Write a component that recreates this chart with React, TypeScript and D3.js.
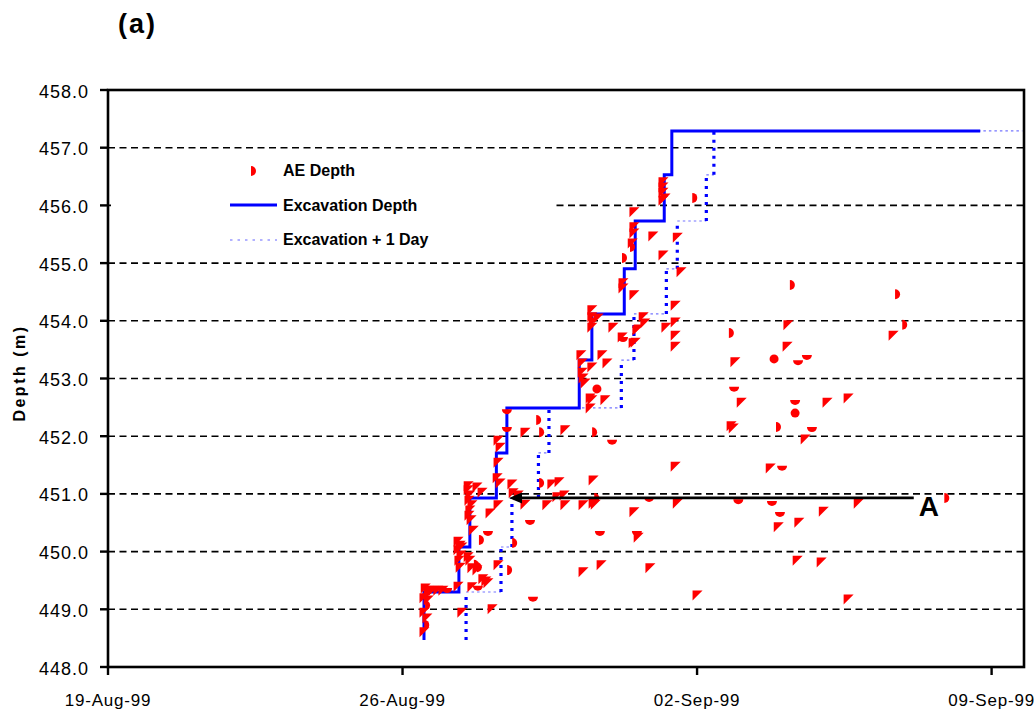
import React from "react";
import * as d3 from "d3";

// Time origin of the x axis and axis ticks
const START = new Date(1999, 7, 19);
const DAY_MS = 864e5;
const xTickDays = [0, 7, 14, 21];
const xMaxDay = 21.77;
const yTicks = [448, 449, 450, 451, 452, 453, 454, 455, 456, 457, 458];
const gridDepths = [449, 450, 451, 452, 453, 454, 455, 456, 457];

// AE event locations: days after 19-Aug-99, depth (m), marker glyph
const aeDay = [
  7.54, 7.61, 7.51, 7.56, 7.51, 7.58, 7.54, 7.51, 7.61, 7.65,
  7.73, 7.84, 7.96, 8.06, 8.32, 8.65, 8.79, 8.98, 9.03, 8.41,
  9.13, 10.10, 8.32, 8.37, 8.32, 8.39, 8.34, 8.41, 8.37, 8.56,
  8.60, 8.72, 8.79, 8.65, 8.77, 8.91, 9.27, 9.51, 9.63, 8.84,
  9.03, 8.68, 8.56, 8.60, 8.58, 8.65, 8.60, 8.58, 8.63, 8.56,
  8.77, 8.89, 9.08, 9.27, 9.32, 9.27, 9.32, 9.27, 9.25, 9.60,
  9.63, 9.75, 9.91, 10.03, 10.27, 10.55, 10.72, 10.43, 10.86, 10.84,
  10.67, 11.29, 11.53, 11.53, 11.58, 11.58, 12.86, 13.53, 12.50, 11.69,
  12.57, 12.60, 11.29, 11.72, 12.88, 13.48, 14.00, 9.48, 10.20, 9.48,
  9.91, 10.27, 10.86, 11.53, 11.98, 11.62, 11.50, 11.81, 11.46, 11.46,
  11.24, 11.27, 11.27, 11.29, 11.34, 11.74, 11.86, 11.50, 12.22, 12.48,
  12.57, 11.50, 11.50, 11.53, 11.65, 11.50, 12.00, 12.24, 12.60, 12.72,
  12.76, 12.53, 13.26, 13.48, 13.48, 13.48, 13.48, 12.50, 12.50, 12.50,
  12.46, 12.43, 12.24, 12.95, 13.53, 13.19, 12.24, 12.24, 12.50, 13.62,
  13.19, 13.19, 13.19, 13.19, 13.24, 13.91, 16.23, 18.73, 16.16, 18.90,
  18.66, 14.78, 16.14, 14.90, 15.83, 16.40, 16.61, 14.88, 15.05, 16.33,
  16.33, 17.09, 17.59, 14.81, 14.86, 15.90, 16.73, 16.57, 15.74, 16.02,
  14.98, 15.78, 17.83, 19.90, 15.97, 17.00, 15.93, 16.42, 16.38, 16.95,
  17.59,
];
const aeDepth = [
  449.37, 449.33, 449.20, 449.07, 448.95, 448.85, 448.73, 448.61, 449.16, 449.28,
  449.33, 449.33, 449.33, 449.35, 449.40, 449.39, 449.39, 449.49, 449.46, 448.95,
  449.01, 449.20, 450.18, 450.11, 450.03, 449.94, 449.85, 450.08, 449.73, 449.91,
  449.85, 449.77, 449.73, 449.72, 449.68, 449.53, 449.77, 449.68, 450.15, 450.20,
  450.34, 450.37, 451.07, 450.98, 450.89, 450.81, 450.72, 450.63, 450.55, 451.14,
  451.12, 451.03, 450.67, 450.81, 451.19, 451.93, 451.81, 451.55, 451.28, 451.17,
  451.02, 450.98, 450.82, 450.53, 451.19, 451.17, 451.21, 450.81, 450.81, 450.98,
  450.95, 450.81, 450.84, 451.24, 450.93, 450.82, 450.93, 450.84, 450.69, 450.34,
  450.34, 450.25, 449.65, 449.77, 449.72, 451.48, 449.25, 452.45, 452.28, 452.14,
  452.07, 452.07, 452.11, 452.07, 451.92, 452.82, 452.63, 452.63, 452.49, 452.66,
  453.41, 453.27, 453.11, 453.01, 452.92, 453.41, 453.27, 453.20, 453.72, 453.62,
  453.84, 454.19, 454.07, 453.98, 454.05, 453.89, 453.89, 453.70, 453.86, 454.07,
  453.96, 453.63, 453.89, 453.98, 453.75, 453.56, 454.27, 455.89, 455.63, 455.52,
  455.35, 455.28, 455.09, 455.47, 455.45, 455.14, 454.66, 454.57, 454.45, 454.85,
  456.41, 456.32, 456.23, 456.09, 456.13, 456.13, 454.62, 454.46, 453.93, 453.93,
  453.75, 453.79, 453.56, 453.29, 453.34, 453.30, 453.39, 452.84, 452.59, 452.61,
  452.40, 452.59, 452.66, 452.18, 452.14, 452.16, 452.14, 451.95, 451.45, 451.47,
  450.89, 450.86, 450.84, 450.93, 450.67, 450.70, 450.43, 450.51, 449.85, 449.82,
  449.18,
];
// t = wedge, d = right half disc, b = lower half disc, c = dot
const aeShape = (
  "tttdttdttt" + "tttbttbttt" + "tbtttttttt" + "tddttttddd" +
  "bttttttttt" + "tttttttttt" + "tttbdttttt" + "ttttdtbttb" +
  "bttttttbdb" + "tdtdbctttt" + "tttttttttt" + "tttttttbtt" + "tttttttttt" +
  "tddttttttt" + "tttttdddtd" + "tdttcbbbtb" + "cttttdbttb" +
  "bbtdbttttt" + "t"
).split("");

// Excavation face depth (step series): day after 19-Aug-99, depth (m)
const excDay = [7.51, 7.51, 8.34, 8.6, 9.23, 9.48, 11.2, 11.5, 12.27, 12.53, 13.22, 13.4, 20.73];
const excDepth = [448.47, 449.3, 450.08, 450.93, 451.71, 452.49, 453.32, 454.12, 454.9, 455.73, 456.53, 457.29, 457.29];
const lagDays = 1;

// Annotation "A"
const arrowDepth = 450.93;
const arrowFromDay = 19.15;
const arrowToDay = 9.53;
const arrowLabel = "A";

const FONT = "'Liberation Sans', Arial, Helvetica, sans-serif";
const RED = "#ff0000";
const BLUE = "#0000ff";

const dayToDate = (d: number) => new Date(START.getTime() + d * DAY_MS);

function markerPath(shape: string, cx: number, cy: number): string {
  switch (shape) {
    case "d":
      return `M${cx - 1},${cy - 5}A5,5 0 0 1 ${cx - 1},${cy + 5}Z`;
    case "b":
      return `M${cx - 5},${cy - 1}A5,5 0 0 0 ${cx + 5},${cy - 1}Z`;
    case "c":
      return `M${cx - 4.5},${cy}A4.5,4.5 0 1 0 ${cx + 4.5},${cy}A4.5,4.5 0 1 0 ${cx - 4.5},${cy}Z`;
    default:
      return `M${cx - 4.5},${cy - 4.5}H${cx + 5.5}L${cx - 4.5},${cy + 5.5}Z`;
  }
}

export default function App() {
  const W = 1034;
  const H = 715;
  const left = 108;
  const right = 1024;
  const top = 90;
  const bottom = 667;

  const x = d3.scaleTime().domain([START, dayToDate(xMaxDay)]).range([left, right]);
  const y = d3.scaleLinear().domain([448, 458]).range([bottom, top]);
  const fmtDate = d3.timeFormat("%d-%b-%y");
  const fmtDepth = d3.format(".1f");

  const exc = excDay.map((d, i) => ({ d, z: excDepth[i] }));
  const stepLine = d3
    .line<{ d: number; z: number }>()
    .x((p) => x(dayToDate(p.d)))
    .y((p) => y(p.z))
    .curve(d3.curveStepAfter);

  // lagged series split into risers and treads
  const seg = d3
    .line<[number, number]>()
    .x((p) => x(dayToDate(p[0])))
    .y((p) => y(p[1]));
  const risers: string[] = [];
  const treads: string[] = [];
  for (let i = 0; i < exc.length - 1; i++) {
    const t0 = exc[i].d + lagDays;
    const t1 = exc[i + 1].d + lagDays;
    if (t1 > t0) treads.push(seg([[t0, exc[i].z], [t1, exc[i].z]]) as string);
    if (exc[i + 1].z !== exc[i].z) risers.push(seg([[t1, exc[i].z], [t1, exc[i + 1].z]]) as string);
  }

  const points = aeDay.map((d, i) => ({ d, z: aeDepth[i], s: aeShape[i] || "t" }));

  const ay = y(arrowDepth);
  const ax0 = x(dayToDate(arrowToDay));
  const ax1 = x(dayToDate(arrowFromDay));

  return (
    <svg
      width={W}
      height={H}
      style={{ position: "absolute", left: 0, top: 0, background: "#fff" }}
      fontFamily={FONT}
    >
      <rect x={0} y={0} width={W} height={H} fill="#fff" />
      <text x={118} y={33} fontSize={27} fontWeight="bold" letterSpacing={2}>
        (a)
      </text>

      {/* horizontal dashed grid */}
      {gridDepths.map((g) => (
        <line
          key={g}
          x1={left}
          x2={right}
          y1={y(g)}
          y2={y(g)}
          stroke="#000"
          strokeWidth={1.6}
          strokeDasharray="7,4.5"
        />
      ))}

      {/* legend background */}
      <rect x={111} y={153} width={444} height={106} fill="#fff" />

      {/* Excavation + 1 day */}
      {treads.map((p, i) => (
        <path key={"t" + i} d={p} fill="none" stroke={BLUE} strokeOpacity={0.55} strokeWidth={1.2} strokeDasharray="2.5,3" />
      ))}
      {risers.map((p, i) => (
        <path key={"r" + i} d={p} fill="none" stroke={BLUE} strokeWidth={3.2} strokeDasharray="3,5" />
      ))}

      {/* Excavation depth */}
      <path d={stepLine(exc) as string} fill="none" stroke={BLUE} strokeWidth={3} />

      {/* AE events */}
      {points.map((p, i) => (
        <path key={i} d={markerPath(p.s, x(dayToDate(p.d)), y(p.z))} fill={RED} />
      ))}

      {/* annotation arrow */}
      <line x1={ax1} x2={ax0 + 10} y1={ay} y2={ay} stroke="#000" strokeWidth={2.8} />
      <path d={`M${ax0},${ay}L${ax0 + 13},${ay - 5.5}L${ax0 + 13},${ay + 5.5}Z`} fill="#000" />
      <text x={ax1 + 5} y={ay + 18} fontSize={28} fontWeight="bold">
        {arrowLabel}
      </text>

      {/* plot frame */}
      <rect x={left} y={top} width={right - left} height={bottom - top} fill="none" stroke="#000" strokeWidth={2.6} />

      {/* y axis */}
      {yTicks.map((t) => (
        <g key={t}>
          <line x1={left - 8} x2={left} y1={y(t)} y2={y(t)} stroke="#000" strokeWidth={2.4} />
          <text x={89} y={y(t) + 7.5} fontSize={18} textAnchor="end" letterSpacing={1}>
            {fmtDepth(t)}
          </text>
        </g>
      ))}
      <text
        transform={`translate(25,373) rotate(-90)`}
        fontSize={16}
        fontWeight="bold"
        textAnchor="middle"
        letterSpacing={2.5}
      >
        Depth (m)
      </text>

      {/* x axis */}
      {xTickDays.map((t) => {
        const px = x(dayToDate(t));
        return (
          <g key={t}>
            <line x1={px} x2={px} y1={bottom} y2={bottom + 8} stroke="#000" strokeWidth={2.4} />
            <text x={px} y={706} fontSize={17} textAnchor="middle" letterSpacing={0.8}>
              {fmtDate(dayToDate(t))}
            </text>
          </g>
        );
      })}

      {/* legend */}
      <path d={markerPath("d", 252, 171)} fill={RED} />
      <text x={283} y={176} fontSize={16} fontWeight="bold">
        AE Depth
      </text>
      <line x1={230} x2={277} y1={205} y2={205} stroke={BLUE} strokeWidth={3} />
      <text x={283} y={211} fontSize={16} fontWeight="bold">
        Excavation Depth
      </text>
      <line x1={230} x2={277} y1={240} y2={240} stroke={BLUE} strokeOpacity={0.6} strokeWidth={1.2} strokeDasharray="2.5,5" />
      <text x={283} y={245} fontSize={16} fontWeight="bold">
        Excavation + 1 Day
      </text>
    </svg>
  );
}
